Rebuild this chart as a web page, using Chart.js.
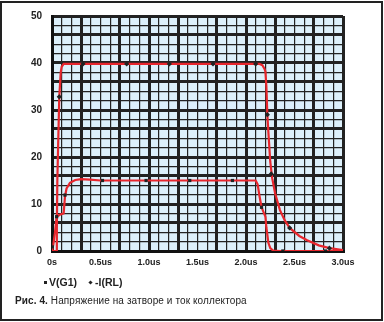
<!DOCTYPE html>
<html>
<head>
<meta charset="utf-8">
<script src="https://cdn.jsdelivr.net/npm/chart.js@4"></script>
<style>
  body { margin: 0; background: #fff; }
  #wrap { position: relative; width: 384px; height: 322px; }
  #frame { position: absolute; left: 0; top: 1px; width: 379px; height: 316px; border: 2px solid #222; }
  canvas { position: absolute; left: 0; top: 0; }
  #legend { position: absolute; left: 44px; top: 276px; font: bold 10.5px "Liberation Sans", sans-serif; color: #222; }
  #legend span { margin-right: 11px; }
  .sq { display: inline-block; width: 3px; height: 3px; background: #222; margin-right: 2px; vertical-align: 2px; }
  .dm { display: inline-block; width: 3px; height: 3px; background: #222; margin: 0 3px 0 1px; vertical-align: 2px; transform: rotate(45deg); }
  #caption { position: absolute; left: 15px; top: 295px; font: 10px "Liberation Sans", sans-serif; color: #222; letter-spacing: 0.1px; }
</style>
</head>
<body>
<div id="wrap">
  <div id="frame"></div>
  <canvas id="mainChart" width="384" height="322"></canvas>
  <div id="legend"><span><i class="sq"></i>V(G1)</span><span><i class="dm"></i>-I(RL)</span></div>
  <div id="caption"><b>Рис. 4.</b> Напряжение на затворе и ток коллектора</div>
</div>
<script>
// V(G1), gate voltage
const tGate = [0, 0.003, 0.013, 0.03, 0.048, 0.08, 0.12, 0.134, 0.15, 0.185, 0.24, 0.3, 0.39, 0.5, 1.0, 1.5, 2.0, 2.1, 2.12, 2.14, 2.16, 2.2, 2.21, 2.22, 2.23, 2.25, 2.28, 2.35, 3.0];
const vGate = [0, 0.2, 1.3, 3.8, 7.3, 7.7, 8, 11.6, 13.3, 14.5, 15.1, 15.3, 15.2, 15, 15, 15, 15, 15, 14.2, 11.6, 9.3, 7.3, 5, 3.5, 1.8, 0.6, 0.1, 0, 0];
const tGateMk = [0.003, 0.048, 0.134, 0.52, 0.97, 1.42, 1.86, 2.16, 2.38, 2.82];
const vGateMk = [0.9, 7.3, 11.9, 15, 15, 15, 15, 9.3, 0, 0];

// -I(RL), collector current
const tCur = [0, 0.045, 0.05, 0.055, 0.065, 0.075, 0.09, 0.1, 0.12, 0.5, 1.0, 1.5, 2.0, 2.14, 2.17, 2.19, 2.2, 2.21, 2.22, 2.23, 2.25, 2.27, 2.3, 2.35, 2.4, 2.45, 2.55, 2.63, 2.75, 2.86, 3.0];
const iCur = [0, 0, 5, 15, 24, 32.8, 38, 39.2, 39.8, 39.8, 39.8, 39.8, 39.8, 39.8, 39.5, 38.8, 38.2, 35, 29, 25.5, 19, 15.5, 12.3, 8.7, 6.5, 4.9, 3.2, 2.3, 1.2, 0.6, 0.2];
const tCurMk = [0.075, 0.32, 0.77, 1.21, 1.66, 2.10, 2.22, 2.26, 2.45, 2.86];
const iCurMk = [32.8, 39.8, 39.8, 39.8, 39.8, 39.8, 29, 16.4, 4.9, 0.6];

const xLabels = {0: '0s', 5: '0.5us', 10: '1.0us', 15: '1.5us', 20: '2.0us', 25: '2.5us', 30: '3.0us'};
const yLabels = [0, 10, 20, 30, 40, 50];

const pts = (xs, ys) => xs.map((x, i) => ({x: x, y: ys[i]}));

const plotBg = {
    id: 'plotBg',
    beforeDraw(chart) {
        const a = chart.chartArea, c = chart.ctx;
        c.save();
        c.fillStyle = '#dcf0fb';
        c.fillRect(a.left, a.top, a.right - a.left, a.bottom - a.top);
        c.restore();
    }
};

const red = '#e8262d';
new Chart(document.getElementById('mainChart'), {
    type: 'line',
    data: {
        datasets: [
            { data: pts(tGate, vGate), borderColor: red, borderWidth: 2.2, pointRadius: 0, tension: 0, order: 2 },
            { data: pts(tCur, iCur), borderColor: red, borderWidth: 2.2, pointRadius: 0, tension: 0, order: 2 },
            { data: pts(tGateMk, vGateMk), showLine: false, pointStyle: 'rect', pointRadius: 2.3, backgroundColor: '#222', borderColor: '#222', borderWidth: 0, order: 1 },
            { data: pts(tCurMk, iCurMk), showLine: false, pointStyle: 'rectRot', pointRadius: 2.6, backgroundColor: '#222', borderColor: '#222', borderWidth: 0, order: 1 }
        ]
    },
    options: {
        responsive: false, animation: false,
        layout: { padding: { top: 16, right: 41, bottom: 51, left: 0 } },
        plugins: { legend: { display: false }, tooltip: { enabled: false } },
        scales: {
            x: {
                type: 'linear', min: 0, max: 3,
                afterFit: s => { s.height = 20; },
                afterBuildTicks: s => { s.ticks = Array.from({length: 31}, (_, i) => ({value: i / 10})); },
                ticks: {
                    autoSkip: false, maxRotation: 0, padding: 6, color: '#222',
                    font: { family: 'Liberation Sans', weight: 'bold', size: 9 },
                    callback: v => xLabels[Math.round(v * 10)] || ''
                },
                grid: {
                    drawTicks: false, color: '#222',
                    lineWidth: c => [0, 3, 7].includes(Math.round(c.tick.value * 10) % 10) ? 3 : 1.2
                },
                border: { color: '#111', width: 3 }
            },
            y: {
                min: 0, max: 50,
                afterFit: s => { s.width = 52; },
                ticks: {
                    stepSize: 2, autoSkip: false, padding: 10, color: '#222',
                    font: { family: 'Liberation Sans', weight: 'bold', size: 10 },
                    callback: v => yLabels.includes(v) ? String(v) : ''
                },
                grid: {
                    drawTicks: false, color: '#222',
                    lineWidth: c => (c.tick.value % 10 === 0 || c.tick.value % 10 === 6) ? 3 : 1.2
                },
                border: { color: '#111', width: 3 }
            }
        }
    },
    plugins: [plotBg]
});
</script>
</body>
</html>
